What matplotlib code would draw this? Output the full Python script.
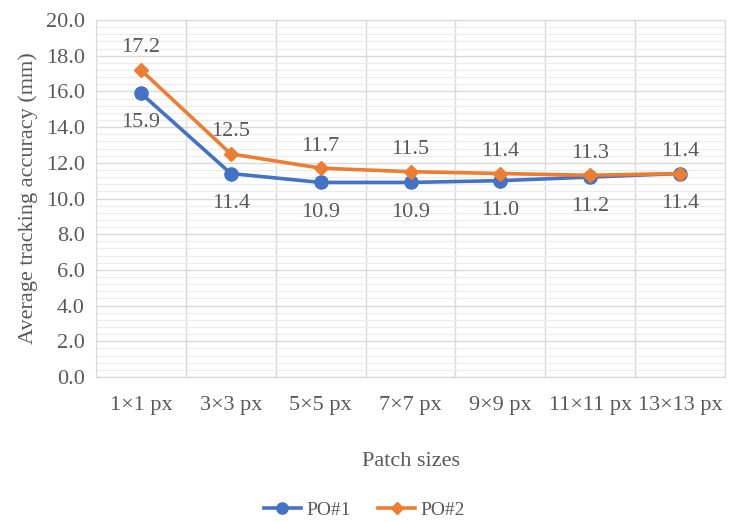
import matplotlib
matplotlib.use("Agg")
import matplotlib.pyplot as plt
from matplotlib.ticker import MultipleLocator

plt.rcParams['font.family'] = ['Liberation Serif', 'DejaVu Serif']

categories = ["1×1 px", "3×3 px", "5×5 px", "7×7 px", "9×9 px", "11×11 px", "13×13 px"]
po1 = [15.9, 11.4, 10.9, 10.9, 11.0, 11.2, 11.4]
po2 = [17.2, 12.5, 11.7, 11.5, 11.4, 11.3, 11.4]

blue = "#4472C4"
orange = "#ED7D31"
text_grey = "#595959"
fs = 16

fig = plt.figure(figsize=(7.29, 5.22), dpi=100)
ax = fig.add_axes([96/729, 1 - 377/522, (725-96)/729, (377-20)/522])

x = list(range(len(categories)))
ax.plot(x, po1, color=blue, lw=2.6, marker='o', ms=9.5, label="PO#1", zorder=3)
ax.plot(x, po2, color=orange, lw=2.6, marker='D', ms=7.5, label="PO#2", zorder=4)

for xi, v in zip(x, po1):
    ax.annotate(f"{v:.1f}", (xi, v), xytext=(0, -14.5), textcoords='offset points',
                ha='center', va='top', fontsize=fs, color=text_grey)
for xi, v in zip(x, po2):
    ax.annotate(f"{v:.1f}", (xi, v), xytext=(0, 9), textcoords='offset points',
                ha='center', va='bottom', fontsize=fs, color=text_grey)

ax.set_xlim(-0.5, len(categories) - 0.5)
ax.set_ylim(0, 20)
ax.yaxis.set_minor_locator(MultipleLocator(0.4))
ax.set_yticks([i * 2 for i in range(11)])
ax.set_yticklabels([f"{i*2:.1f}" for i in range(11)])
ax.set_xticks(x)
ax.set_xticklabels(categories)
ax.set_xticks([i + 0.5 for i in range(-1, len(categories))], minor=True)

ax.grid(which='major', axis='y', color='#d9d9d9', lw=1.0)
ax.grid(which='minor', axis='y', color='#ececec', lw=0.9)
ax.grid(which='minor', axis='x', color='#d9d9d9', lw=1.0)
ax.set_axisbelow(True)
for s in ax.spines.values():
    s.set_color('#d9d9d9')
ax.tick_params(which='both', length=0, labelsize=fs, colors=text_grey, pad=8)
ax.tick_params(axis='x', pad=14)

ax.set_ylabel("Average tracking accuracy (mm)", fontsize=fs, color=text_grey, labelpad=6)
ax.set_xlabel("Patch sizes", fontsize=fs, color=text_grey, labelpad=26)

leg = fig.legend(loc='center', bbox_to_anchor=(0.5, 1 - 510/522), ncol=2, frameon=False,
                 fontsize=14, handlelength=1.9, columnspacing=1.4, handletextpad=0.3,
                 markerscale=0.85)
for t in leg.get_texts():
    t.set_color(text_grey)

fig.savefig("out.png", dpi=100)
